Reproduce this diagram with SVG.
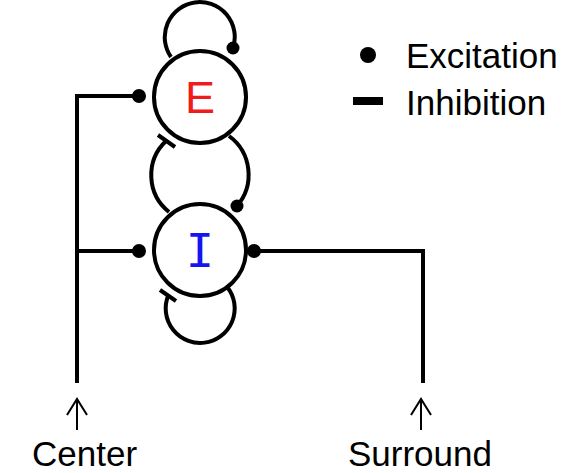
<svg xmlns="http://www.w3.org/2000/svg" width="569" height="473" viewBox="0 0 569 473">
<style>
.ln{fill:none;stroke:#000;stroke-width:4;stroke-linecap:butt}
.ar{fill:none;stroke:#000;stroke-width:2}
.dot{fill:#000}
.lbl{font-family:"Liberation Sans",Arial,sans-serif;font-size:35px;fill:#000}
</style>
<rect width="569" height="473" fill="#fff"/>
<g id="connectors">
<path class="ln" d="M171,57 A35,35 0 1 1 233,48"/>
<circle class="dot" cx="233" cy="48" r="6.5"/>
<path class="ln" d="M229,136 A48,48 0 0 1 237,206"/>
<circle class="dot" cx="237" cy="206" r="6.5"/>
<path class="ln" d="M169,212 A47,47 0 0 1 166,141"/>
<line class="ln" x1="158" y1="135" x2="175" y2="147"/>
<path class="ln" d="M228,288 A34.5,34.5 0 1 1 168,296"/>
<line class="ln" x1="160" y1="290" x2="176" y2="301"/>
<path class="ln" d="M77,383 V96 H139 M77,251 H139"/>
<circle class="dot" cx="139" cy="96" r="7"/>
<circle class="dot" cx="139" cy="251" r="7"/>
<path class="ln" d="M254,251 H423 V383"/>
<circle class="dot" cx="254" cy="251" r="7"/>
</g>
<g id="E">
<circle cx="200" cy="97" r="46" fill="none" stroke="#000" stroke-width="4"/>
<text x="200" y="113" text-anchor="middle" font-family="Liberation Sans,Arial,sans-serif" font-size="45" fill="#f01c1c">E</text>
</g>
<g id="I">
<circle cx="200" cy="250" r="46" fill="none" stroke="#000" stroke-width="4"/>
<text x="200" y="267" text-anchor="middle" font-family="DejaVu Sans Mono,monospace" font-size="47" fill="#1515f0">I</text>
</g>
<g id="center">
<line class="ar" x1="77" y1="430" x2="77" y2="399"/>
<polyline class="ar" points="67,415 77,399 87,415"/>
<text class="lbl" x="32" y="466">Center</text>
</g>
<g id="surround">
<line class="ar" x1="421" y1="430" x2="421" y2="399"/>
<polyline class="ar" points="411,415 421,399 431,415"/>
<text class="lbl" x="348" y="466">Surround</text>
</g>
<g id="legend">
<circle class="dot" cx="368" cy="55" r="8"/>
<text class="lbl" x="406" y="68">Excitation</text>
<rect x="353" y="97" width="30" height="8" fill="#000"/>
<text class="lbl" x="406" y="115">Inhibition</text>
</g>
</svg>
